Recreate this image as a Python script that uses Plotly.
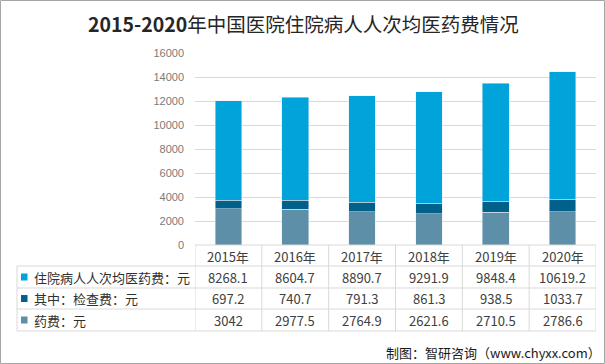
import plotly.graph_objects as go

years = ["2015年", "2016年", "2017年", "2018年", "2019年", "2020年"]
total_fee = [8268.1, 8604.7, 8890.7, 9291.9, 9848.4, 10619.2]
exam_fee = [697.2, 740.7, 791.3, 861.3, 938.5, 1033.7]
drug_fee = [3042, 2977.5, 2764.9, 2621.6, 2710.5, 2786.6]
series_names = ["住院病人人次均医药费：元", "其中：检查费：元", "药费：元"]
y_ticks = [0, 2000, 4000, 6000, 8000, 10000, 12000, 14000, 16000]

W, H = 605, 364
L, R, T, B = 195, 596, 53, 245
c_total, c_exam, c_drug = "#00A3DA", "#01618A", "#5D8FA8"
grid = "#D9D9D9"
font_cjk = "Noto Sans CJK SC, Liberation Sans, sans-serif"


def py(p):
    return (B - p) / (B - T)


def px(p):
    return (p - L) / (R - L)


fig = go.Figure()
fig.add_bar(x=years, y=drug_fee, name=series_names[2], marker_color=c_drug, width=0.4)
fig.add_bar(x=years, y=exam_fee, name=series_names[1], marker_color=c_exam, width=0.4)
fig.add_bar(x=years, y=total_fee, name=series_names[0], marker_color=c_total, width=0.4)

shapes = []
# table horizontal lines
shapes.append(dict(type="line", xref="paper", yref="paper", x0=0, x1=1, y0=py(245), y1=py(245),
                   line=dict(color=grid, width=1)))
for yy in [266, 288, 309, 331]:
    shapes.append(dict(type="line", xref="paper", yref="paper", x0=px(17), x1=1, y0=py(yy), y1=py(yy),
                       line=dict(color=grid, width=1)))
# vertical lines
shapes.append(dict(type="line", xref="paper", yref="paper", x0=px(17), x1=px(17), y0=py(266), y1=py(331),
                   line=dict(color=grid, width=1)))
for i in range(len(years) + 1):
    shapes.append(dict(type="line", xref="x", yref="paper", x0=i - 0.5, x1=i - 0.5, y0=py(245), y1=py(331),
                       line=dict(color=grid, width=1)))

annotations = []
for i, yr in enumerate(years):
    annotations.append(dict(x=i, y=py(256), xref="x", yref="paper", text=yr, showarrow=False,
                            font=dict(size=13, color="#404040", family=font_cjk), xanchor="center", yanchor="middle"))
rows = [(total_fee, 277, c_total), (exam_fee, 298.5, c_exam), (drug_fee, 320, c_drug)]
for (vals, yc, col), name in zip(rows, series_names):
    for i, v in enumerate(vals):
        annotations.append(dict(x=i, y=py(yc), xref="x", yref="paper", text=f"{v:g}", showarrow=False,
                                font=dict(size=13, color="#404040", family=font_cjk), xanchor="center", yanchor="middle"))
    annotations.append(dict(x=px(32), y=py(yc), xref="paper", yref="paper", text=name, showarrow=False,
                            font=dict(size=13, color="#303030", family=font_cjk), xanchor="left", yanchor="middle"))
    shapes.append(dict(type="rect", xref="paper", yref="paper", x0=px(21), x1=px(27.5),
                       y0=py(yc + 3.5), y1=py(yc - 3.5), fillcolor=col, line=dict(width=0)))

annotations.append(dict(x=px(303), y=py(24), xref="paper", yref="paper",
                        text="<b>2015-2020</b>年中国医院住院病人人次均医药费情况", showarrow=False,
                        font=dict(size=19.5, color="#262626", family=font_cjk), xanchor="center", yanchor="middle"))
annotations.append(dict(x=px(603), y=py(352), xref="paper", yref="paper",
                        text="制图：智研咨询（www.chyxx.com）", showarrow=False,
                        font=dict(size=13, color="#1a1a1a", family=font_cjk), xanchor="right", yanchor="middle"))

# outer border
shapes.append(dict(type="rect", xref="paper", yref="paper", x0=px(0.5), x1=px(W - 0.5), y0=py(H - 0.5), y1=py(0.5),
                   line=dict(color="#A6A6A6", width=1)))

fig.update_layout(
    barmode="stack",
    width=W, height=H,
    margin=dict(l=L, r=W - R, t=T, b=H - B, pad=0),
    paper_bgcolor="white", plot_bgcolor="white",
    showlegend=False,
    shapes=shapes,
    annotations=annotations,
    xaxis=dict(range=[-0.5, 5.5], showticklabels=False, showgrid=False, zeroline=False, showline=False, ticks=""),
    yaxis=dict(range=[0, 16000], tickvals=y_ticks, tickformat="d", showgrid=True, gridcolor=grid, gridwidth=1,
               zeroline=False, showline=False, ticks="", ticklabelstandoff=10,
               tickfont=dict(size=11, color="#7A7A7A", family="Liberation Sans, Arial, sans-serif")),
)

fig.write_html("out.html", config={"displayModeBar": False},
               post_script="document.body.style.margin='0';document.body.style.padding='0';")
